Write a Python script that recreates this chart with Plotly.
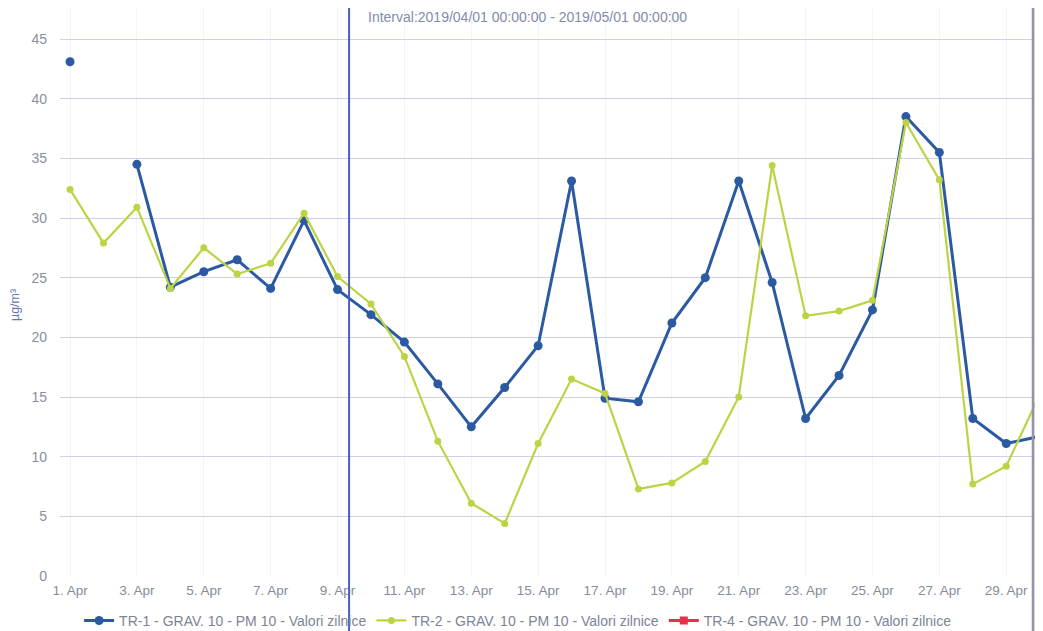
import plotly.graph_objects as go
import pandas as pd

# ---- data ----
dates = pd.date_range("2019-04-01", "2019-04-30", freq="D")
tr1 = [43.1, None, 34.5, 24.2, 25.5, 26.5, 24.1, 29.8, 24.0, 21.9,
       19.6, 16.1, 12.5, 15.8, 19.3, 33.1, 14.9, 14.6, 21.2, 25.0,
       33.1, 24.6, 13.2, 16.8, 22.3, 38.5, 35.5, 13.2, 11.1, 11.7]
tr2 = [32.4, 27.9, 30.9, 24.1, 27.5, 25.3, 26.2, 30.4, 25.1, 22.8,
       18.4, 11.3, 6.1, 4.4, 11.1, 16.5, 15.3, 7.3, 7.8, 9.6,
       15.0, 34.4, 21.8, 22.2, 23.1, 38.0, 33.2, 7.7, 9.2, 15.2]
tr4 = [None] * len(dates)  # no values in the period

series_names = ["TR-1 - GRAV. 10 - PM 10 - Valori zilnice",
                "TR-2 - GRAV. 10 - PM 10 - Valori zilnice",
                "TR-4 - GRAV. 10 - PM 10 - Valori zilnice"]

tick_dates = pd.date_range("2019-04-01", "2019-04-29", freq="2D")
tick_labels = [f"{d.day}. Apr" for d in tick_dates]
y_ticks = [0, 5, 10, 15, 20, 25, 30, 35, 40, 45]

title_text = "Interval:2019/04/01 00:00:00 - 2019/05/01 00:00:00"
y_title = "µg/m³"
crosshair_date = pd.Timestamp("2019-04-09 08:18")

# ---- figure ----
x_r0 = pd.Timestamp("2019-04-01") - pd.Timedelta(hours=7.2)
x_r1 = pd.Timestamp("2019-04-30") + pd.Timedelta(hours=2.4)

FONT = "Liberation Sans, Arial, sans-serif"

fig = go.Figure()
fig.add_trace(go.Scatter(
    x=dates, y=tr1, name=series_names[0], mode="lines+markers",
    line=dict(color="#2b5aa3", width=3), marker=dict(size=9, color="#2b5aa3"),
    connectgaps=False))
fig.add_trace(go.Scatter(
    x=dates, y=tr2, name=series_names[1], mode="lines+markers",
    line=dict(color="#bcd444", width=2.2), marker=dict(size=7, color="#bcd444"),
    connectgaps=False))
fig.add_trace(go.Scatter(
    x=dates, y=tr4, name=series_names[2], mode="lines+markers",
    line=dict(color="#e8304a", width=3), marker=dict(size=8, color="#e8304a", symbol="square")))

span = (x_r1 - x_r0)
frac = (crosshair_date - x_r0) / span

shapes = [
    dict(type="rect", xref="paper", yref="paper", x0=0.9898, x1=1.02, y0=-0.2, y1=1.02,
         fillcolor="rgba(222,225,238,0.7)", line=dict(width=0), layer="below"),
    dict(type="line", xref="paper", yref="paper", x0=0.9898, x1=0.9898, y0=-0.2, y1=1.02,
         line=dict(color="#9096a8", width=2.5), layer="above"),
    dict(type="line", xref="paper", yref="paper", x0=frac, x1=frac, y0=-0.2, y1=1.02,
         line=dict(color="#4a5ec0", width=2)),
]

fig.update_layout(
    width=1035, height=623,
    margin=dict(l=52, r=0, t=0, b=55, autoexpand=False),
    paper_bgcolor="white", plot_bgcolor="white",
    font=dict(family=FONT, size=13, color="#858c9c"),
    shapes=shapes,
    showlegend=True,
    legend=dict(orientation="h", x=0.466, xanchor="center", y=-0.079, yanchor="middle",
                font=dict(size=14, color="#7d8496"), itemwidth=30, bgcolor="rgba(0,0,0,0)"),
    annotations=[
        dict(text=title_text, xref="paper", yref="paper", x=0.311, y=0.984,
             xanchor="left", yanchor="middle", showarrow=False,
             font=dict(size=14, color="#7f8cab", family=FONT)),
        dict(text=y_title, xref="paper", yref="paper", x=-0.0458, y=0.477,
             xanchor="center", yanchor="middle", showarrow=False, textangle=-90,
             font=dict(size=12.5, color="#6a76b0", family=FONT)),
    ],
)

fig.update_xaxes(
    range=[x_r0, x_r1], tickmode="array", tickvals=tick_dates, ticktext=tick_labels,
    showgrid=True, gridcolor="rgba(215,220,238,0.3)", gridwidth=1,
    zeroline=False, showline=False, ticks="", automargin=False, ticklabelstandoff=4,
    tickfont=dict(size=13.5, color="#858c9c"))
fig.update_yaxes(
    range=[0, 47.6], tickmode="array", tickvals=y_ticks,
    showgrid=True, gridcolor="#cdd1ec", gridwidth=1, zeroline=False,
    showline=False, ticks="", automargin=False, ticklabelstandoff=12,
    tickfont=dict(size=14, color="#8a90a0"))

fig.write_html("out.html")
